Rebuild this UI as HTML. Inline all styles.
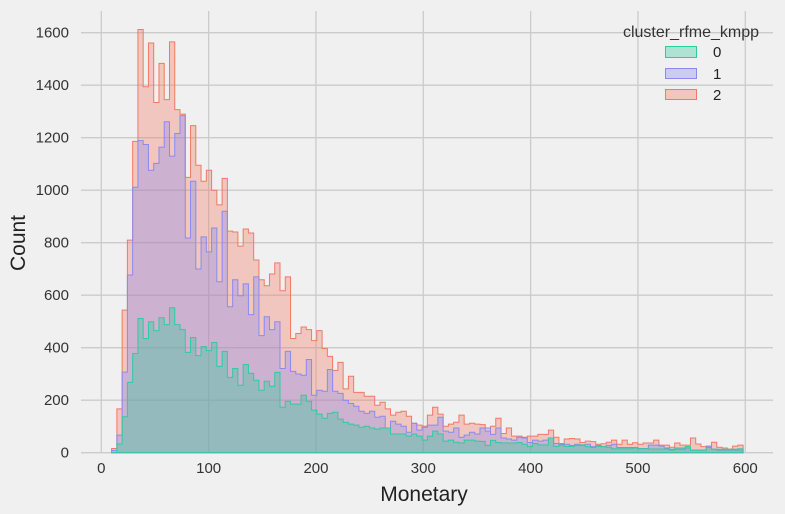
<!DOCTYPE html>
<html><head><meta charset="utf-8"><style>
html,body{margin:0;padding:0;background:#f0f0f0;}
svg{display:block;font-family:"Liberation Sans",sans-serif;}
</style></head><body>
<svg id="chart" width="785" height="514" viewBox="0 0 785 514">
<rect width="785" height="514" fill="#f0f0f0"/>
<g id="grid"></g>
<g id="bars"></g>
<g id="axes"></g>
<text x="25" y="243" font-size="21" fill="#222" text-anchor="middle" transform="rotate(-90 25 243)">Count</text>
<text x="424" y="501" font-size="21" fill="#222" text-anchor="middle">Monetary</text>
<g>
<text x="691" y="37" font-size="16" fill="#333" text-anchor="middle">cluster_rfme_kmpp</text>
<rect x="665.5" y="46.5" width="31" height="11" fill="rgba(46,204,159,0.35)" stroke="#2ecc9f" stroke-width="1"/>
<text x="713" y="57" font-size="15" fill="#222">0</text>
<rect x="665.5" y="68.5" width="31" height="10" fill="rgba(138,138,240,0.35)" stroke="#8a8af0" stroke-width="1"/>
<text x="713" y="79" font-size="15" fill="#222">1</text>
<rect x="665.5" y="89.5" width="31" height="10" fill="rgba(240,120,100,0.35)" stroke="#f07a64" stroke-width="1"/>
<text x="713" y="100" font-size="15" fill="#222">2</text>
</g>
</svg>
<script>
const binStart = 9.6;
const binWidth = 4.903;
const xTicks = [0,100,200,300,400,500,600];
const yTicks = [0,200,400,600,800,1000,1200,1400,1600];
const cluster2 = [16,167,543,810,1186,1612,1394,1561,1334,1483,
1345,1565,1307,1290,1049,1246,1095,1034,1076,1000,
944,1045,844,841,787,852,837,734,659,636,
681,723,617,670,435,454,479,469,427,465,
397,367,313,344,243,291,230,230,215,215,
181,192,167,143,154,158,139,112,105,101,
143,173,147,101,109,116,143,109,112,109,
107,82,101,131,73,94,63,63,59,63,
63,70,70,86,59,35,52,54,52,39,
44,42,32,34,40,48,32,48,32,38,
32,37,37,48,29,29,21,37,29,29,
56,33,23,25,40,21,18,14,25,29];
const cluster1 = [9,67,307,677,1011,1189,1174,1076,1102,1164,
1261,1130,1216,1284,818,1034,700,822,765,856,
651,920,556,659,598,643,526,670,446,518,
469,499,321,386,310,300,295,355,219,238,
234,317,234,226,200,188,177,158,150,158,
135,139,94,120,109,101,78,112,86,97,
105,105,135,82,78,94,59,67,78,71,
94,94,70,94,56,52,48,59,56,39,
48,44,48,56,35,32,32,28,32,28,
32,23,28,23,28,32,20,20,20,20,
16,16,29,29,25,18,13,13,13,18,
10,10,10,25,13,10,10,10,10,10];
const cluster0 = [0,33,137,268,378,511,435,499,465,514,
488,552,488,469,382,439,370,404,389,420,
329,386,287,321,257,336,302,276,238,272,
253,306,173,196,185,185,219,196,162,147,
131,150,154,128,116,109,105,97,101,94,
90,94,94,71,71,71,63,71,63,48,
63,82,71,44,48,40,37,48,48,44,
43,28,47,39,37,37,37,39,32,23,
35,30,30,56,24,29,24,24,28,30,
23,20,24,23,21,15,15,15,15,18,
15,15,14,14,14,14,10,18,18,23,
10,10,10,20,13,13,13,13,13,15];

const NS = "http://www.w3.org/2000/svg";
const X0 = 101.3, XS = 1.0733, Y0 = 452.7, YS = 0.2625;
const xs = v => X0 + v * XS;
const ys = v => Y0 - v * YS;
const PL = 81, PR = 773, PT = 11;

const grid = document.getElementById('grid');
const axes = document.getElementById('axes');
xTicks.forEach(t => {
  const l = document.createElementNS(NS, 'line');
  l.setAttribute('x1', xs(t)); l.setAttribute('x2', xs(t));
  l.setAttribute('y1', PT); l.setAttribute('y2', Y0);
  l.setAttribute('stroke', '#cbcbcb'); l.setAttribute('stroke-width', '1.3');
  
  
  grid.appendChild(l);
  const tx = document.createElementNS(NS, 'text');
  tx.setAttribute('x', xs(t)); tx.setAttribute('y', 473);
  tx.setAttribute('text-anchor', 'middle'); tx.setAttribute('font-size', '15');
  tx.setAttribute('fill', '#333');
  tx.textContent = t;
  
  
  axes.appendChild(tx);
});
yTicks.forEach(t => {
  const l = document.createElementNS(NS, 'line');
  l.setAttribute('x1', PL); l.setAttribute('x2', PR);
  l.setAttribute('y1', ys(t)); l.setAttribute('y2', ys(t));
  l.setAttribute('stroke', '#cbcbcb'); l.setAttribute('stroke-width', '1.3');
  
  
  grid.appendChild(l);
  const tx = document.createElementNS(NS, 'text');
  tx.setAttribute('x', 69); tx.setAttribute('y', ys(t) + 5);
  tx.setAttribute('text-anchor', 'end'); tx.setAttribute('font-size', '15');
  tx.setAttribute('fill', '#333');
  tx.textContent = t;
  
  
  axes.appendChild(tx);
});

const bars = document.getElementById('bars');
function stepPath(vals) {
  let d = 'M' + xs(binStart).toFixed(2) + ',' + Y0;
  vals.forEach((v, k) => {
    const a = xs(binStart + k * binWidth), b = xs(binStart + (k + 1) * binWidth);
    d += ' L' + a.toFixed(2) + ',' + ys(v).toFixed(2) + ' L' + b.toFixed(2) + ',' + ys(v).toFixed(2);
  });
  d += ' L' + xs(binStart + vals.length * binWidth).toFixed(2) + ',' + Y0 + ' Z';
  return d;
}
[[cluster2, 'rgba(240,120,100,0.35)', '#f07a64', 'series-cluster-2'],
 [cluster1, 'rgba(138,138,240,0.35)', '#8a8af0', 'series-cluster-1'],
 [cluster0, 'rgba(46,204,159,0.35)', '#2ecc9f', 'series-cluster-0']].forEach(s => {
  const p = document.createElementNS(NS, 'path');
  p.setAttribute('d', stepPath(s[0]));
  p.setAttribute('fill', s[1]);
  p.setAttribute('stroke', s[2]);
  p.setAttribute('stroke-width', '1');
  p.setAttribute('stroke-linejoin', 'miter');
  
  
  bars.appendChild(p);
});
</script>
</body></html>
